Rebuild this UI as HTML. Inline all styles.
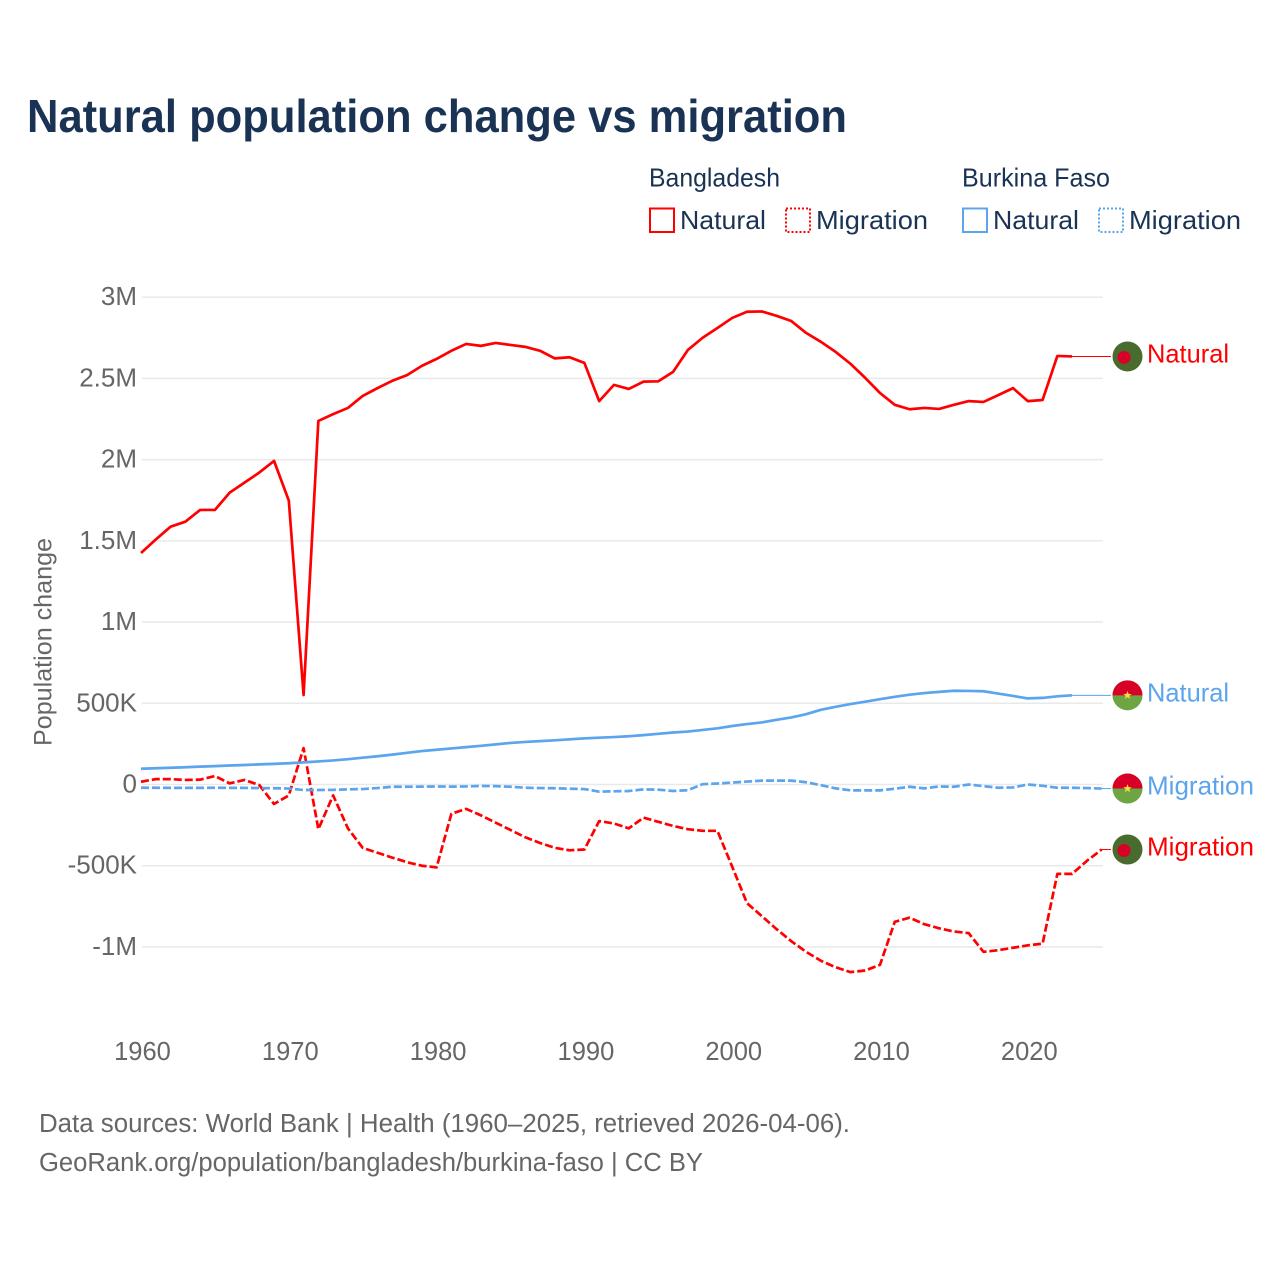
<!DOCTYPE html>
<html lang="en">
<head>
<meta charset="utf-8">
<title>Natural population change vs migration</title>
<style>
html,body{margin:0;padding:0;background:#fff;width:1280px;height:1280px;overflow:hidden}
svg{display:block;font-family:"Liberation Sans",sans-serif}
.dark{fill:#1a3354}
.gray{fill:#666}
</style>
</head>
<body>
<svg id="chart" xmlns="http://www.w3.org/2000/svg" width="1280" height="1280" viewBox="0 0 1280 1280">
  <rect width="1280" height="1280" fill="#fff"/>
  <text class="dark" x="27" y="132" font-size="46" font-weight="700" textLength="820" lengthAdjust="spacingAndGlyphs">Natural population change vs migration</text>

  <g font-size="26" fill="#1a3354">
    <text x="649" y="186.5" textLength="131" lengthAdjust="spacingAndGlyphs">Bangladesh</text>
    <text x="962" y="186.5" textLength="148" lengthAdjust="spacingAndGlyphs">Burkina Faso</text>
    <rect x="650" y="208.5" width="24" height="23.5" fill="none" stroke="#ff0000" stroke-width="2"/>
    <text x="680" y="229" textLength="86" lengthAdjust="spacingAndGlyphs">Natural</text>
    <rect x="786" y="208.5" width="24" height="23.5" fill="none" stroke="#ff0000" stroke-width="2" stroke-dasharray="2 2"/>
    <text x="816" y="229" textLength="112" lengthAdjust="spacingAndGlyphs">Migration</text>
    <rect x="963" y="208.5" width="24" height="23.5" fill="none" stroke="#5ba4ee" stroke-width="2"/>
    <text x="993" y="229" textLength="86" lengthAdjust="spacingAndGlyphs">Natural</text>
    <rect x="1099" y="208.5" width="24" height="23.5" fill="none" stroke="#5ba4ee" stroke-width="2" stroke-dasharray="2 2"/>
    <text x="1129" y="229" textLength="112" lengthAdjust="spacingAndGlyphs">Migration</text>
  </g>

  <text class="gray" font-size="25" transform="translate(51.5,746) rotate(-90)" textLength="208" lengthAdjust="spacingAndGlyphs">Population change</text>

  <g id="grid"></g>
  <g id="yticks" class="gray" font-size="26" text-anchor="end"></g>
  <g id="xticks" class="gray" font-size="25.5" text-anchor="middle"></g>
  <g id="series"></g>
  <g id="ends"></g>

  <g class="gray" font-size="25.5">
    <text x="39" y="1132" textLength="811" lengthAdjust="spacingAndGlyphs">Data sources: World Bank | Health (1960–2025, retrieved 2026-04-06).</text>
    <text x="39" y="1171" textLength="664" lengthAdjust="spacingAndGlyphs">GeoRank.org/population/bangladesh/burkina-faso | CC BY</text>
  </g>
</svg>
<script>
var startYear = 1960;
var yTickValues = [3, 2.5, 2, 1.5, 1, 0.5, 0, -0.5, -1];
var yTickLabels = ['3M', '2.5M', '2M', '1.5M', '1M', '500K', '0', '-500K', '-1M'];
var xTickYears = [1960, 1970, 1980, 1990, 2000, 2010, 2020];

// Values in millions, one per year from 1960.
var bangladeshNatural = [1.425,1.508,1.587,1.618,1.69,1.69,1.797,1.858,1.92,1.992,
  1.748,0.551,2.238,2.28,2.318,2.392,2.44,2.485,2.52,2.577,
  2.62,2.67,2.712,2.70,2.718,2.706,2.694,2.67,2.623,2.63,
  2.595,2.36,2.46,2.435,2.48,2.482,2.54,2.675,2.75,2.81,
  2.872,2.91,2.912,2.885,2.853,2.78,2.725,2.663,2.59,2.503,
  2.41,2.337,2.31,2.318,2.312,2.337,2.36,2.355,2.397,2.44,
  2.36,2.367,2.638,2.635];
var bangladeshMigration = [0.017,0.033,0.033,0.028,0.03,0.052,0.007,0.028,-0.003,-0.12,
  -0.067,0.224,-0.275,-0.067,-0.27,-0.39,-0.42,-0.45,-0.478,-0.5,
  -0.51,-0.18,-0.15,-0.19,-0.235,-0.28,-0.325,-0.36,-0.39,-0.405,
  -0.4,-0.225,-0.24,-0.27,-0.204,-0.23,-0.255,-0.275,-0.285,-0.285,
  -0.506,-0.73,-0.81,-0.89,-0.965,-1.03,-1.085,-1.125,-1.155,-1.145,
  -1.11,-0.845,-0.82,-0.86,-0.885,-0.905,-0.915,-1.03,-1.02,-1.005,
  -0.99,-0.98,-0.55,-0.55,-0.47,-0.4];
var burkinaNatural = [0.097,0.1,0.103,0.106,0.11,0.113,0.117,0.12,0.124,0.127,
  0.131,0.136,0.142,0.148,0.156,0.165,0.174,0.184,0.195,0.206,
  0.214,0.222,0.23,0.238,0.247,0.256,0.262,0.267,0.272,0.278,
  0.284,0.288,0.292,0.297,0.304,0.312,0.32,0.326,0.336,0.346,
  0.36,0.372,0.382,0.398,0.413,0.433,0.46,0.478,0.495,0.51,
  0.525,0.54,0.553,0.563,0.57,0.577,0.576,0.574,0.56,0.545,
  0.53,0.533,0.543,0.549];
var burkinaMigration = [-0.02,-0.02,-0.021,-0.021,-0.021,-0.02,-0.021,-0.021,-0.022,-0.023,
  -0.025,-0.034,-0.034,-0.033,-0.03,-0.028,-0.022,-0.014,-0.014,-0.013,
  -0.012,-0.013,-0.012,-0.009,-0.01,-0.014,-0.02,-0.022,-0.023,-0.026,
  -0.028,-0.044,-0.042,-0.04,-0.03,-0.032,-0.04,-0.035,0.002,0.006,
  0.012,0.018,0.024,0.024,0.024,0.014,-0.004,-0.024,-0.036,-0.036,
  -0.036,-0.026,-0.014,-0.024,-0.012,-0.014,0,-0.01,-0.02,-0.018,
  0,-0.008,-0.02,-0.02,-0.022,-0.025];

var NS = 'http://www.w3.org/2000/svg';
var RED = '#ff0000';
var BLUE = '#5ba4ee';

function xScale(year) { return 141 + (year - 1960) * 14.78; }
function yScale(v) { return 784.5 - v * 162.45; }

function make(tag, attrs, parent) {
  var el = document.createElementNS(NS, tag);
  for (var k in attrs) { el.setAttribute(k, attrs[k]); }
  parent.appendChild(el);
  return el;
}

var gridG = document.getElementById('grid');
var yG = document.getElementById('yticks');
var xG = document.getElementById('xticks');
var seriesG = document.getElementById('series');
var endsG = document.getElementById('ends');

yTickValues.forEach(function (v, i) {
  var line = make('line', { x1: 142, x2: 1103, y1: yScale(v), y2: yScale(v), stroke: '#e9e9e9', 'stroke-width': 1.5 }, gridG);
  
  
  var t = make('text', { x: 137, y: yScale(v) + 8 }, yG);
  
  
  t.textContent = yTickLabels[i];
});

xTickYears.forEach(function (yr) {
  var t = make('text', { x: xScale(yr) + 1.5, y: 1060 }, xG);
  
  
  t.textContent = yr;
});

function drawSeries(name, values, color, dashed) {
  var pts = values.map(function (v, i) {
    return xScale(startYear + i).toFixed(2) + ',' + yScale(v).toFixed(2);
  }).join(' ');
  var attrs = { points: pts, fill: 'none', stroke: color, 'stroke-width': 2.7, 'stroke-linejoin': 'round' };
  if (dashed) { attrs['stroke-dasharray'] = '8 3'; }
  var line = make('polyline', attrs, seriesG);
  
  
}

function drawBangladeshFlag(cx, cy) {
  var g = make('g', {}, endsG);
  
  
  make('circle', { cx: cx, cy: cy, r: 15, fill: '#4a6b2e' }, g);
  make('circle', { cx: cx - 3.5, cy: cy + 1, r: 6.5, fill: '#d80027' }, g);
}

function drawBurkinaFlag(cx, cy) {
  var g = make('g', {}, endsG);
  
  
  make('circle', { cx: cx, cy: cy, r: 15, fill: '#6da544' }, g);
  make('path', { d: 'M' + (cx - 15) + ' ' + cy + 'A15 15 0 0 1 ' + (cx + 15) + ' ' + cy + 'Z', fill: '#d80027' }, g);
  var star = [];
  for (var i = 0; i < 10; i++) {
    var r = i % 2 ? 1.8 : 4.4;
    var a = -Math.PI / 2 + i * Math.PI / 5;
    star.push((cx + r * Math.cos(a)).toFixed(2) + ',' + (cy + r * Math.sin(a)).toFixed(2));
  }
  make('polygon', { points: star.join(' '), fill: '#ffda44' }, g);
}

function drawEnd(name, values, color, label, labelWidth, flag, dyLabel) {
  var lastYear = startYear + values.length - 1;
  var y = yScale(values[values.length - 1]);
  var leader = make('line', { x1: xScale(lastYear), x2: 1111, y1: y, y2: y, stroke: color, 'stroke-width': 1 }, endsG);
  
  
  flag(1127.5, y);
  var t = make('text', { x: 1147, y: y + dyLabel, fill: color, 'font-size': 26, textLength: labelWidth, lengthAdjust: 'spacingAndGlyphs' }, endsG);
  
  
  t.textContent = label;
}

drawSeries('bangladesh-natural', bangladeshNatural, RED, false);
drawSeries('bangladesh-migration', bangladeshMigration, RED, true);
drawSeries('burkina-faso-natural', burkinaNatural, BLUE, false);
drawSeries('burkina-faso-migration', burkinaMigration, BLUE, true);

drawEnd('bangladesh-natural', bangladeshNatural, RED, 'Natural', 82, drawBangladeshFlag, 6);
drawEnd('burkina-faso-natural', burkinaNatural, BLUE, 'Natural', 82, drawBurkinaFlag, 6);
drawEnd('burkina-faso-migration', burkinaMigration, BLUE, 'Migration', 107, drawBurkinaFlag, 6);
drawEnd('bangladesh-migration', bangladeshMigration, RED, 'Migration', 107, drawBangladeshFlag, 6);
</script>
</body>
</html>
